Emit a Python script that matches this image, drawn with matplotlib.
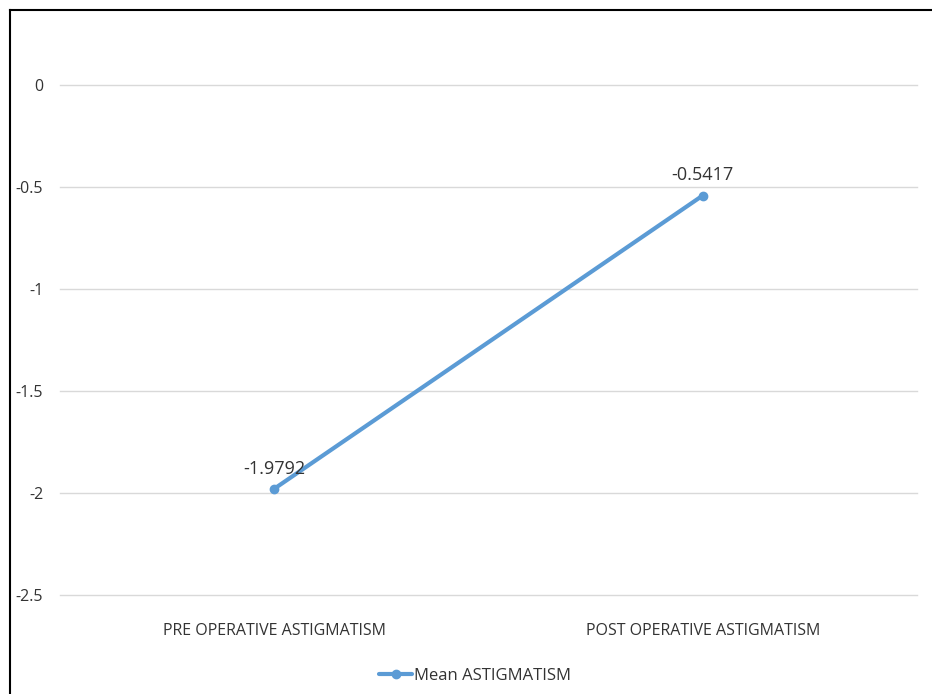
import matplotlib
matplotlib.use("Agg")
import matplotlib.pyplot as plt
from matplotlib.lines import Line2D

# chart data
categories = ["PRE OPERATIVE ASTIGMATISM", "POST OPERATIVE ASTIGMATISM"]
mean_astigmatism = [-1.9792, -0.5417]
y_ticks = [0, -0.5, -1, -1.5, -2, -2.5]
y_tick_labels = ["0", "-0.5", "-1", "-1.5", "-2", "-2.5"]
series_name = "Mean ASTIGMATISM"

text_col = "#333333"
line_col = "#5B9BD5"
grid_col = "#D9D9D9"

fig = plt.figure(figsize=(9.32, 6.94), dpi=100)
ax = fig.add_axes([60 / 932, 1 - 595 / 694, 857 / 932, 510 / 694])

x = list(range(len(categories)))
ax.plot(x, mean_astigmatism, color=line_col, linewidth=3, marker="o",
        markersize=6, label=series_name, solid_capstyle="round")

for xi, v in zip(x, mean_astigmatism):
    ax.annotate(f"{v:g}", (xi, v), xytext=(0, 8), textcoords="offset points",
                ha="center", va="bottom", fontsize=13, color=text_col,
                family="Open Sans")

ax.set_xlim(-0.5, 1.5)
ax.set_ylim(-2.5, 0)
ax.set_yticks(y_ticks)
ax.set_yticklabels(y_tick_labels, fontsize=11.5, color=text_col, family="Open Sans")
ax.set_xticks(x)
ax.set_xticklabels(categories, fontsize=11.5, color=text_col,
                   family="Open Sans", fontstretch="semi-condensed")
ax.tick_params(axis="both", length=0)
ax.tick_params(axis="y", pad=12)
ax.tick_params(axis="x", pad=20)
ax.grid(axis="y", color=grid_col, linewidth=1)
for gl in ax.get_ygridlines():
    gl.set_clip_on(False)
ax.set_axisbelow(True)
for s in ax.spines.values():
    s.set_visible(False)

leg = fig.legend(loc="center", bbox_to_anchor=(475 / 932, 1 - 676 / 694),
                 frameon=False, handlelength=2.0, handletextpad=0.1,
                 prop={"family": "Open Sans", "size": 12,
                       "stretch": "semi-condensed"})
for t in leg.get_texts():
    t.set_color(text_col)

# outer frame (top and left edges visible in the source)
fig.add_artist(Line2D([10 / 932, 10 / 932], [0, 1 - 10 / 694], color="black",
                      linewidth=1.5, transform=fig.transFigure))
fig.add_artist(Line2D([10 / 932, 1], [1 - 10 / 694, 1 - 10 / 694], color="black",
                      linewidth=1.5, transform=fig.transFigure))

fig.savefig("out.png", dpi=100)
